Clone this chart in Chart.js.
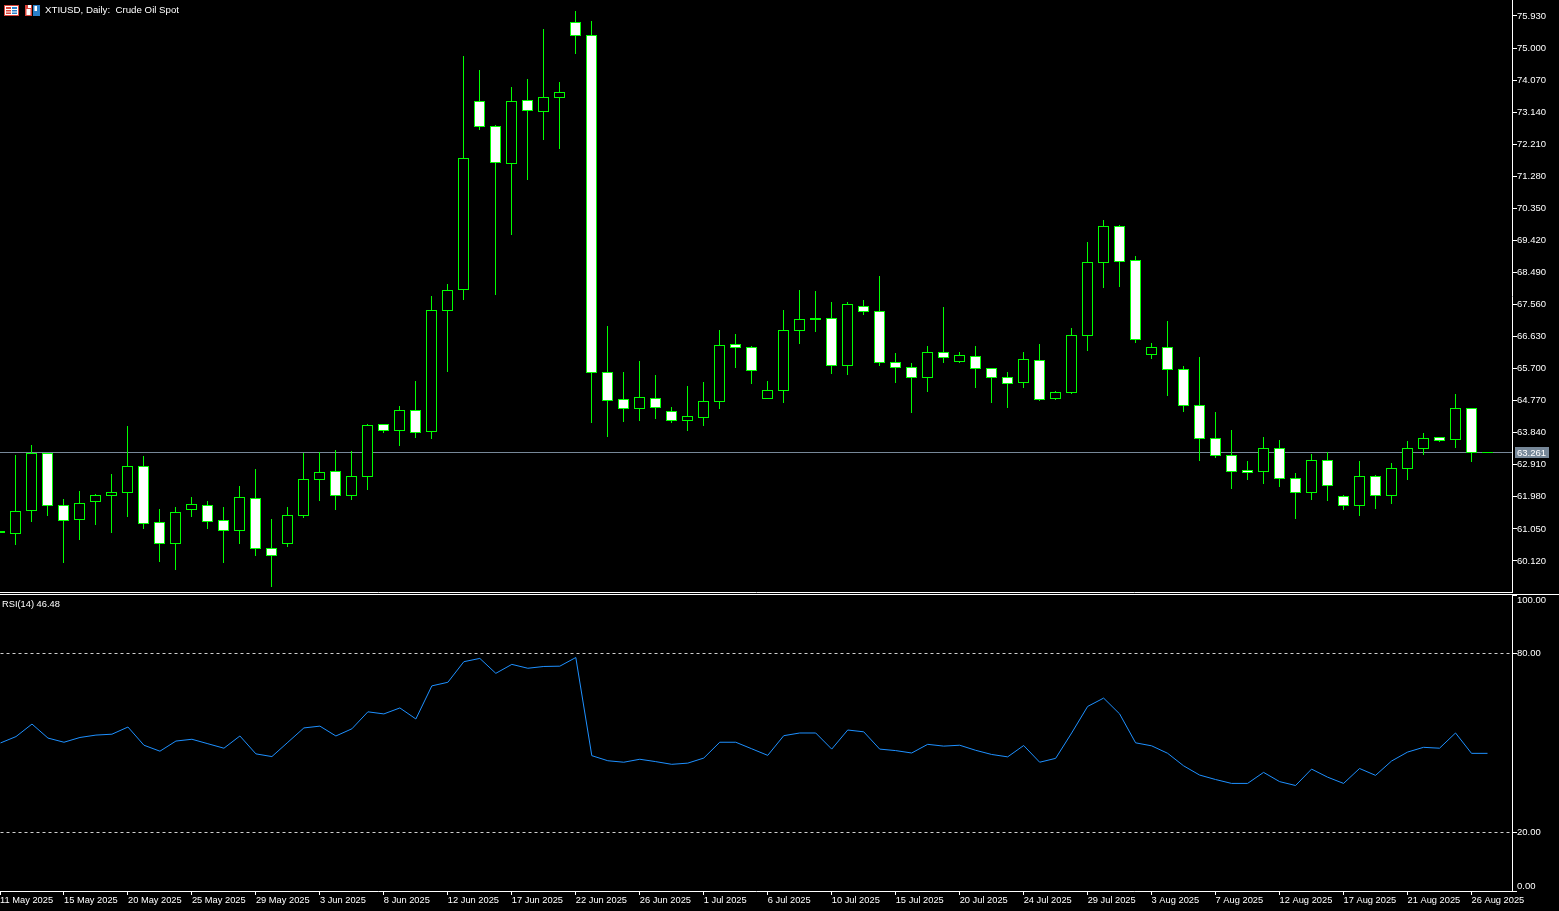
<!DOCTYPE html>
<html><head><meta charset="utf-8"><title>XTIUSD, Daily: Crude Oil Spot</title>
<script src="https://cdn.jsdelivr.net/npm/chart.js@4"></script>
<style>
html,body{margin:0;padding:0;background:#000;width:1559px;height:911px;overflow:hidden}
canvas{display:block;position:absolute;left:0}
#price{top:0}
#rsiWrap{position:absolute;left:0;top:594px;width:1559px;height:317px;border-top:1px solid #fff;box-sizing:border-box}
#rsi{top:594px}
.lbl{position:absolute;color:#fff;font:9.7px/12px "Liberation Sans",sans-serif;white-space:pre}
svg{position:absolute}
</style></head><body>
<canvas id="price" width="1559" height="593"></canvas>
<div id="rsiWrap"></div>
<canvas id="rsi" width="1559" height="317"></canvas>
<svg style="left:4px;top:5px" width="15" height="11" viewBox="0 0 15 11"><rect x=".5" y=".5" width="14" height="10" fill="#fff" stroke="#d8443a"/><rect x="2" y="2" width="5" height="2" fill="#d8443a"/><rect x="2" y="5" width="5" height="1.5" fill="#d8443a"/><rect x="2" y="7.5" width="5" height="1.5" fill="#d8443a"/><rect x="8" y="2" width="5" height="2" fill="#2a7fc9"/><rect x="8" y="5" width="5" height="1.5" fill="#2a7fc9"/><rect x="8" y="7.5" width="5" height="1.5" fill="#2a7fc9"/></svg>
<svg style="left:25px;top:5px" width="15" height="11" viewBox="0 0 15 11"><rect x="0" y="0" width="7" height="11" fill="#d8443a"/><rect x="1.5" y="4" width="4" height="6" fill="#fff"/><rect x="3" y="0" width="3" height="3" fill="#fff"/><rect x="8" y="0" width="7" height="11" fill="#2a7fc9"/><rect x="9.5" y="1" width="2.5" height="5" fill="#fff"/></svg>
<div class="lbl" style="left:45px;top:4px">XTIUSD, Daily:  Crude Oil Spot</div>
<div class="lbl" style="left:2px;top:598px;font-size:9.3px">RSI(14) 46.48</div>
<script>
const opens=[60.989,60.902,61.569,63.252,61.743,61.308,61.830,62.005,62.092,62.875,
61.250,60.612,61.598,61.743,61.308,60.989,61.947,60.496,60.612,61.424,
62.469,62.730,62.005,62.556,64.093,63.890,64.499,63.861,67.372,67.981,
73.464,72.739,71.636,73.493,73.145,73.551,75.756,75.379,65.602,64.819,
64.528,64.848,64.470,64.180,64.267,64.732,66.414,66.327,64.819,65.051,
66.791,67.110,67.169,65.776,67.517,67.372,65.892,65.747,65.428,66.182,
65.892,66.066,65.718,65.457,65.283,65.950,64.819,64.993,66.646,68.764,
69.838,68.851,66.095,66.327,65.689,64.645,63.687,63.194,62.759,62.701,
63.397,62.527,62.092,63.049,62.005,61.714,62.585,62.005,62.788,63.368,
63.716,63.629,64.558,63.281];
const closes=[60.931,61.569,63.252,61.714,61.279,61.801,62.034,62.121,62.875,61.192,
60.612,61.540,61.772,61.250,60.989,61.976,60.467,60.264,61.453,62.498,
62.701,62.005,62.585,64.064,63.890,64.499,63.832,67.401,67.981,71.810,
72.710,71.665,73.464,73.174,73.580,73.725,75.350,65.573,64.761,64.528,
64.877,64.558,64.180,64.325,64.761,66.385,66.298,65.631,65.080,66.820,
67.139,67.169,65.776,67.575,67.343,65.863,65.718,65.428,66.182,66.008,
66.095,65.689,65.428,65.254,65.979,64.790,65.022,66.675,68.793,69.838,
68.793,66.530,66.327,65.660,64.616,63.658,63.165,62.701,62.672,63.397,
62.498,62.092,63.049,62.295,61.714,62.585,62.005,62.817,63.397,63.687,
63.600,64.558,63.252,63.252];
const highs=[61.20,63.194,63.484,63.252,61.918,62.150,62.063,62.643,64.035,63.165,
61.627,61.685,61.976,61.859,61.685,62.295,62.788,61.337,61.685,63.252,
63.281,63.339,63.310,64.093,64.093,64.616,65.341,67.807,68.155,74.769,
74.363,72.768,73.870,74.102,75.553,74.015,76.075,75.785,66.936,65.602,
65.921,65.515,64.587,65.196,65.312,66.820,66.704,66.356,65.341,67.401,
67.981,67.952,67.633,67.633,67.691,68.387,66.153,65.863,66.356,67.488,
66.182,66.356,65.718,65.602,66.182,66.414,65.051,66.878,69.373,70.012,
69.867,68.967,66.443,67.081,65.776,66.037,64.441,63.919,63.020,63.716,
63.629,62.672,63.223,63.281,62.034,63.020,62.614,62.962,63.600,63.832,
63.716,64.964,64.558,63.281];
const lows=[60.70,60.583,61.250,61.424,60.061,60.728,61.163,60.931,61.395,61.047,
60.090,59.858,61.395,61.047,60.061,60.612,60.264,59.365,60.525,61.366,
61.859,61.598,61.888,62.179,63.832,63.455,63.687,63.658,65.602,67.691,
72.623,67.836,69.576,71.172,72.332,72.071,74.827,64.122,63.716,64.151,
64.180,64.238,64.122,63.890,64.035,64.528,65.718,65.254,64.819,64.703,
66.414,66.762,65.544,65.515,67.256,65.776,65.283,64.412,65.022,65.863,
65.863,65.138,64.703,64.558,65.138,64.761,64.790,64.964,66.211,68.039,
68.068,66.443,65.979,64.906,64.441,63.020,63.107,62.208,62.469,62.353,
62.266,61.337,61.888,61.859,61.598,61.424,61.627,61.772,62.469,63.194,
63.571,63.397,62.991,63.252];
const rsiValues=[49.9,52.1,56.3,51.6,50.2,51.8,52.6,52.9,55.3,49.2,
47.2,50.6,51.2,49.7,48.2,52.3,46.3,45.4,50.2,55.0,
55.6,52.3,54.7,60.4,59.7,61.7,58.0,69.1,70.3,77.2,
78.3,73.3,76.3,75.0,75.6,75.7,78.6,45.7,44.0,43.5,
44.5,43.7,42.8,43.2,44.9,50.2,50.2,48.0,45.8,
52.4,53.3,53.3,47.9,54.3,53.7,47.9,47.4,46.6,49.5,48.9,49.2,47.5,46.1,45.3,49.1,43.5,44.8,53.3,62.2,65.0,59.7,50.0,49.0,46.5,42.3,39.2,37.7,36.4,36.4,40.1,37.0,35.7,41.2,38.5,36.4,41.4,39.1,43.9,46.9,48.5,48.2,53.3,46.48,46.48];
const dateLabels=["11 May 2025","15 May 2025","20 May 2025","25 May 2025","29 May 2025","3 Jun 2025","8 Jun 2025","12 Jun 2025","17 Jun 2025","22 Jun 2025","26 Jun 2025","1 Jul 2025","6 Jul 2025","10 Jul 2025","15 Jul 2025","20 Jul 2025","24 Jul 2025","29 Jul 2025","3 Aug 2025","7 Aug 2025","12 Aug 2025","17 Aug 2025","21 Aug 2025","26 Aug 2025"];
const dateIndex=[0,4,8,12,16,20,24,28,32,36,40,44,48,52,56,60,64,68,72,76,80,84,88,92];
const priceTicks=[75.93,75.00,74.07,73.14,72.21,71.28,70.35,69.42,68.49,67.56,66.63,65.70,64.77,63.84,62.91,61.98,61.05,60.12];
const rsiTicks=[100,80,20,0];
const rsiLevels=[80,20];
const bidPrice=63.261;

const FONT={family:'"Liberation Sans"',size:9.5};
const XFONT={family:'"Liberation Sans"',size:9.3};
const GREEN='#00ff00', WHITE='#ffffff';
const X_MIN=0.03125, X_MAX=94.53125;
const idx=opens.map((_,i)=>i);
function noPad(s,w){s.width=w;s.paddingTop=0;s.paddingBottom=0;}
function xScale(extra){
  return Object.assign({type:'linear',offset:false,min:X_MIN,max:X_MAX,
    afterBuildTicks(s){s.ticks=dateIndex.map(v=>({value:v}));},
    border:{display:true,color:WHITE,width:1},
    grid:{display:true,offset:false,drawOnChartArea:false,color:WHITE,tickColor:WHITE,tickLength:4}},extra);
}
const bidPlugin={id:'bid',
  beforeDatasetsDraw(c){
    const a=c.chartArea,y=Math.floor(c.scales.y.getPixelForValue(bidPrice))+.5,g=c.ctx;
    g.save();g.strokeStyle='#778899';g.lineWidth=1;g.beginPath();g.moveTo(a.left,y);g.lineTo(a.right,y);g.stroke();g.restore();
  },
  afterDraw(c){
    const y=Math.floor(c.scales.y.getPixelForValue(bidPrice))+.5,g=c.ctx;
    g.save();g.fillStyle='#778899';g.fillRect(1515,Math.floor(y)-5,34,11);
    g.fillStyle=WHITE;g.font='9.5px "Liberation Sans"';g.textBaseline='middle';g.textAlign='left';
    g.fillText(bidPrice.toFixed(3),1517,y+.5);g.restore();
  }};
new Chart(document.getElementById('price'),{
  type:'bar',
  plugins:[bidPlugin],
  data:{datasets:[
    {label:'Body',order:1,grouped:false,barThickness:11,borderWidth:1,borderSkipped:false,inflateAmount:0,
     borderColor:GREEN,backgroundColor:idx.map(i=>closes[i]>=opens[i]?'#000000':WHITE),
     data:idx.map(i=>({x:i,y:[opens[i],closes[i]]}))},
    {label:'Wick',order:2,grouped:false,barThickness:1,borderWidth:0,inflateAmount:0,backgroundColor:GREEN,
     data:idx.map(i=>({x:i,y:[lows[i],highs[i]]}))}
  ]},
  options:{responsive:false,animation:false,events:[],devicePixelRatio:1,
    layout:{padding:{left:0,top:0,right:0,bottom:1}},
    plugins:{legend:{display:false},tooltip:{enabled:false},title:{display:false}},
    scales:{
      x:xScale({ticks:{display:false},grid:{display:true,offset:false,drawOnChartArea:false,drawTicks:false,color:WHITE}}),
      y:{type:'linear',position:'right',min:59.2195,max:76.394,
        afterFit(s){noPad(s,47);},
        afterBuildTicks(s){s.ticks=priceTicks.map(v=>({value:v}));},
        border:{display:true,color:WHITE,width:1},
        grid:{drawOnChartArea:false,color:WHITE,tickColor:WHITE,tickLength:5},
        ticks:{color:WHITE,font:FONT,padding:0,autoSkip:false,callback:v=>v.toFixed(3)}}
    }}
});
const RSI_MIN=0.335,RSI_MAX=99.56;
new Chart(document.getElementById('rsi'),{
  type:'line',
  data:{datasets:[{label:'RSI(14)',data:idx.map(i=>({x:i,y:rsiValues[i]})),borderColor:'#1e90ff',borderWidth:1,pointRadius:0,tension:0,fill:false}]},
  options:{responsive:false,animation:false,events:[],devicePixelRatio:1,
    layout:{padding:{left:0,top:1,right:0,bottom:0}},
    plugins:{legend:{display:false},tooltip:{enabled:false},title:{display:false}},
    scales:{
      x:xScale({afterFit(s){s.height=20;},
        ticks:{color:WHITE,font:XFONT,align:'start',padding:0,maxRotation:0,minRotation:0,autoSkip:false,
          callback:(v,i)=>dateLabels[i]}}),
      y:{type:'linear',position:'right',min:RSI_MIN,max:RSI_MAX,
        afterFit(s){noPad(s,47);},
        afterBuildTicks(s){s.ticks=rsiTicks.map(v=>({value:Math.min(RSI_MAX,Math.max(RSI_MIN,v))}));},
        border:{display:true,color:WHITE,width:1,dash:[3,3]},
        grid:{color:c=>(c.tick&&rsiLevels.includes(rsiTicks[c.index]))?'#d0d0d0':'rgba(0,0,0,0)',tickColor:WHITE,tickLength:5,tickBorderDash:[]},
        ticks:{color:WHITE,font:Object.assign({},FONT,{lineHeight:1.05}),padding:0,autoSkip:false,
          callback:(v,i)=>{const t=rsiTicks[i].toFixed(2);return i===0?['',t]:(i===rsiTicks.length-1?[t,'']:t);}}}
    }}
});
</script></body></html>
